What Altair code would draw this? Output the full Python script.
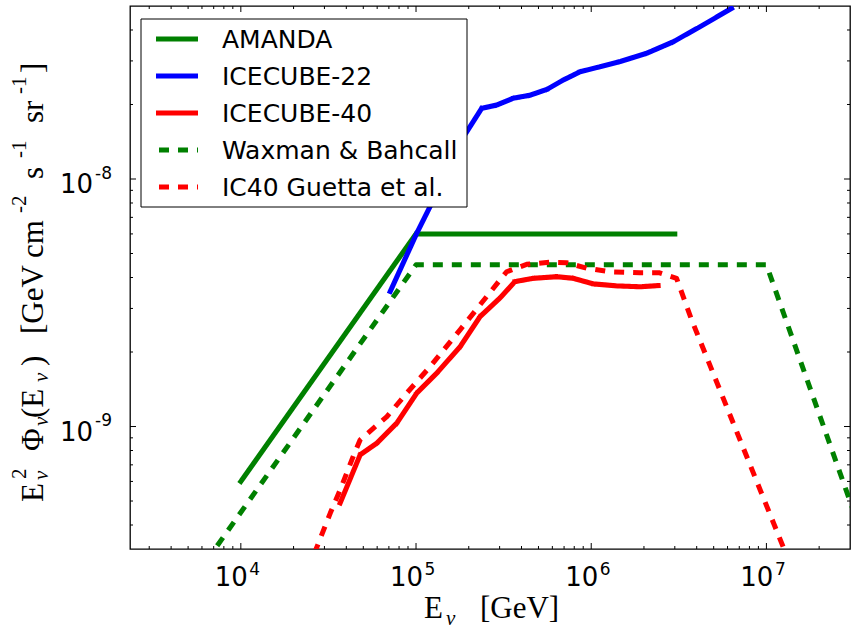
import altair as alt
import pandas as pd

# ---------------- data ----------------
series_names = ["AMANDA", "ICECUBE-22", "ICECUBE-40", "Waxman & Bahcall", "IC40 Guetta et al."]
series_colors = ["#008000", "#0000ff", "#ff0000", "#008000", "#ff0000"]

amanda_E = [1.0e4, 1.0e5, 3.0e6]
amanda_F = [6.0e-10, 6.0e-9, 6.0e-9]

ic22_E = [7.12e4, 1.01e5, 1.256e5, 1.708e5, 1.948e5, 2.37e5, 2.89e5, 3.59e5, 4.47e5,
          5.57e5, 6.92e5, 8.62e5, 1.457e6, 2.07e6, 2.93e6, 4.17e6, 6.32e6]
ic22_F = [3.51e-9, 6.04e-9, 8.23e-9, 1.35e-8, 1.552e-8, 1.93e-8, 1.99e-8, 2.12e-8, 2.18e-8,
          2.30e-8, 2.51e-8, 2.71e-8, 2.98e-8, 3.22e-8, 3.58e-8, 4.12e-8, 4.89e-8]

ic40_E = [3.69e4, 4.80e4, 5.98e4, 7.77e4, 1.01e5, 1.314e5, 1.784e5, 2.32e5, 3.02e5,
          3.67e5, 4.67e5, 6.35e5, 7.89e5, 1.027e6, 1.396e6, 1.895e6, 2.41e6]
ic40_F = [4.91e-10, 7.69e-10, 8.57e-10, 1.033e-9, 1.365e-9, 1.644e-9, 2.10e-9, 2.78e-9, 3.31e-9,
          3.85e-9, 3.97e-9, 4.03e-9, 3.97e-9, 3.77e-9, 3.70e-9, 3.67e-9, 3.71e-9]

wb_E = [2.0e3, 1.0e5, 1.0e7, 4.0e7]
wb_F = [9.0e-11, 4.5e-9, 4.5e-9, 2.81e-10]

guetta_E = [2.4e4, 2.69e4, 3.24e4, 3.69e4, 4.38e4, 4.80e4, 6.82e4, 8.86e4, 1.203e5, 1.784e5,
            2.53e5, 3.29e5, 4.28e5, 5.82e5, 7.24e5, 9.41e5, 1.278e6, 1.895e6, 2.46e6, 3.07e6,
            3.74e6, 1.243e7, 1.41e7]
guetta_F = [2.6e-10, 3.2e-10, 4.47e-10, 5.55e-10, 7.57e-10, 8.84e-10, 1.097e-9, 1.365e-9,
            1.746e-9, 2.457e-9, 3.35e-9, 4.22e-9, 4.52e-9, 4.61e-9, 4.59e-9, 4.36e-9, 4.22e-9,
            4.18e-9, 4.18e-9, 3.97e-9, 2.70e-9, 3.28e-10, 2.6e-10]

x_domain = [2.33e3, 3.0e7]
y_domain = [3.2e-10, 5.0e-8]

x_major = [1e4, 1e5, 1e6, 1e7]
x_major_base = ["10", "10", "10", "10"]
x_major_exp = ["4", "5", "6", "7"]
x_minor = [3e3, 4e3, 5e3, 6e3, 7e3, 8e3, 9e3,
           2e4, 3e4, 4e4, 5e4, 6e4, 7e4, 8e4, 9e4,
           2e5, 3e5, 4e5, 5e5, 6e5, 7e5, 8e5, 9e5,
           2e6, 3e6, 4e6, 5e6, 6e6, 7e6, 8e6, 9e6,
           2e7]
y_major = [1e-9, 1e-8]
y_major_base = ["10", "10"]
y_major_exp = ["-9", "-8"]
y_minor = [4e-10, 5e-10, 6e-10, 7e-10, 8e-10, 9e-10,
           2e-9, 3e-9, 4e-9, 5e-9, 6e-9, 7e-9, 8e-9, 9e-9,
           2e-8, 3e-8, 4e-8]

# ---------------- build tables ----------------
rows = []
for name, Es, Fs in [
    (series_names[0], amanda_E, amanda_F),
    (series_names[1], ic22_E, ic22_F),
    (series_names[2], ic40_E, ic40_F),
    (series_names[3], wb_E, wb_F),
    (series_names[4], guetta_E, guetta_F),
]:
    for i, (e, f) in enumerate(zip(Es, Fs)):
        rows.append({"series": name, "E": e, "F": f, "idx": i})
df = pd.DataFrame(rows)
legend_df = pd.DataFrame({"series": series_names, "i": list(range(len(series_names)))})

W, H = 720, 543
MAJ, MIN = 6, 3
SANS = "DejaVu Sans"
SERIF = "Liberation Serif"
DASH = [10, 9]

xscale = alt.Scale(type="log", domain=x_domain, nice=False)
yscale = alt.Scale(type="log", domain=y_domain, nice=False)
cscale = alt.Scale(domain=series_names, range=series_colors)
dscale = alt.Scale(domain=series_names, range=[[1, 0], [1, 0], [1, 0], DASH, DASH])

color_enc = alt.Color("series:N", scale=cscale, legend=None)
dash_enc = alt.StrokeDash("series:N", scale=dscale, legend=None)

base = alt.Chart(df).encode(
    x=alt.X("E:Q", scale=xscale, axis=None),
    y=alt.Y("F:Q", scale=yscale, axis=None),
    color=color_enc,
    strokeDash=dash_enc,
    order="idx:Q",
)
solid = base.mark_line(strokeWidth=5, clip=True, strokeCap="square", strokeJoin="round").transform_filter(
    alt.FieldOneOfPredicate(field="series", oneOf=series_names[:3]))
dashed = base.mark_line(strokeWidth=5, clip=True, strokeCap="butt", strokeJoin="round").transform_filter(
    alt.FieldOneOfPredicate(field="series", oneOf=series_names[3:]))

xt_major = pd.DataFrame({"v": x_major, "b": x_major_base, "e": x_major_exp})
xt_minor = pd.DataFrame({"v": x_minor})
yt_major = pd.DataFrame({"v": y_major, "b": y_major_base, "e": y_major_exp})
yt_minor = pd.DataFrame({"v": y_minor})


def xticks(d, L):
    bot = alt.Chart(d).mark_rule(color="black", strokeWidth=1).encode(
        x=alt.X("v:Q", scale=xscale, axis=None), y=alt.value(H), y2=alt.value(H - L))
    top = alt.Chart(d).mark_rule(color="black", strokeWidth=1).encode(
        x=alt.X("v:Q", scale=xscale, axis=None), y=alt.value(0), y2=alt.value(L))
    return [bot, top]


def yticks(d, L):
    left = alt.Chart(d).mark_rule(color="black", strokeWidth=1).encode(
        y=alt.Y("v:Q", scale=yscale, axis=None), x=alt.value(0), x2=alt.value(L))
    right = alt.Chart(d).mark_rule(color="black", strokeWidth=1).encode(
        y=alt.Y("v:Q", scale=yscale, axis=None), x=alt.value(W), x2=alt.value(W - L))
    return [left, right]


# tick labels (10 with a superscript exponent)
xlab_base = alt.Chart(xt_major).mark_text(font=SANS, fontSize=26, align="right", baseline="alphabetic",
                                          dx=7, color="black").encode(
    x=alt.X("v:Q", scale=xscale, axis=None), y=alt.value(H + 37), text="b:N")
xlab_exp = alt.Chart(xt_major).mark_text(font=SANS, fontSize=17, align="left", baseline="alphabetic",
                                         dx=8.5, color="black").encode(
    x=alt.X("v:Q", scale=xscale, axis=None), y=alt.value(H + 26), text="e:N")
ylab_base = alt.Chart(yt_major).mark_text(font=SANS, fontSize=26, align="right", baseline="alphabetic",
                                          dy=14, color="black").encode(
    y=alt.Y("v:Q", scale=yscale, axis=None), x=alt.value(-37), text="b:N")
ylab_exp = alt.Chart(yt_major).mark_text(font=SANS, fontSize=17, align="left", baseline="alphabetic",
                                         dy=-0.5, color="black").encode(
    y=alt.Y("v:Q", scale=yscale, axis=None), x=alt.value(-35), text="e:N")

# axis titles built from pieces (sub/superscripts)
one = pd.DataFrame({"k": [0]})


def piece(txt, x, y, size, angle=0, italic=False):
    kw = dict(text=txt, font=SERIF, fontSize=size, align="left", baseline="alphabetic", color="black")
    if angle:
        kw["angle"] = angle
    if italic:
        kw["fontStyle"] = "italic"
    return alt.Chart(one).mark_text(**kw).encode(x=alt.value(x), y=alt.value(y))


MAIN, SUB = 31, 21
title_layers = [
    piece("E", 294, 612, MAIN),
    piece("\u03bd", 316, 619, SUB, italic=True),
    piece("[GeV]", 350, 612, MAIN),
]
XB, XSUP, XSUB = -87, -104, -82
for txt, kind, start in [
    ("E", "m", 496), ("2", "p", 473), ("\u03bd", "b", 474),
    ("\u03a6", "m", 445), ("\u03bd", "b", 420),
    ("(E", "m", 412), ("\u03bd", "b", 376), (")", "m", 360),
    ("[GeV cm", "m", 328), ("-2", "p", 207),
    ("s", "m", 173), ("-1", "p", 152),
    ("sr", "m", 117), ("-1", "p", 88), ("]", "m", 67),
]:
    if kind == "m":
        title_layers.append(piece(txt, XB, start, MAIN, angle=270))
    elif kind == "p":
        title_layers.append(piece(txt, XSUP, start, SUB, angle=270))
    else:
        title_layers.append(piece(txt, XSUB, start, SUB, angle=270, italic=True))

# legend (matplotlib-style box in the upper left)
LX0, LX1, LY0, LY1 = 11, 337, 13, 201
ROW0, ROWH = 33, 37
leg_box = alt.Chart(one).mark_rect(fill="white", stroke="black", strokeWidth=1).encode(
    x=alt.value(LX0), x2=alt.value(LX1), y=alt.value(LY0), y2=alt.value(LY1))
leg_base = alt.Chart(legend_df).transform_calculate(
    ly=f"{ROW0} + {ROWH} * datum.i", ty=f"{ROW0 + 9} + {ROWH} * datum.i",
    lx0="26", lx1="68")
leg_lines = leg_base.mark_rule(strokeWidth=5, strokeCap="butt", strokeDashOffset=16).encode(
    x=alt.X("lx0:Q", scale=None, axis=None), x2="lx1:Q",
    y=alt.Y("ly:Q", scale=None, axis=None),
    color=color_enc, strokeDash=dash_enc)
leg_text = leg_base.mark_text(font=SANS, fontSize=25, align="left", baseline="alphabetic",
                              color="black").encode(
    x=alt.value(92), y=alt.Y("ty:Q", scale=None, axis=None), text="series:N")

layers = ([solid, dashed] + xticks(xt_major, MAJ) + xticks(xt_minor, MIN)
          + yticks(yt_major, MAJ) + yticks(yt_minor, MIN)
          + [xlab_base, xlab_exp, ylab_base, ylab_exp] + title_layers
          + [leg_box, leg_lines, leg_text])

chart = alt.layer(*layers).properties(
    width=W, height=H,
    autosize=alt.AutoSizeParams(type="none"),
    padding={"left": 130, "top": 6, "right": 1, "bottom": 86},
    background="white",
).configure_view(stroke="black", strokeWidth=1.3)

chart.save("out.html", embed_options={"renderer": "svg", "actions": False})
